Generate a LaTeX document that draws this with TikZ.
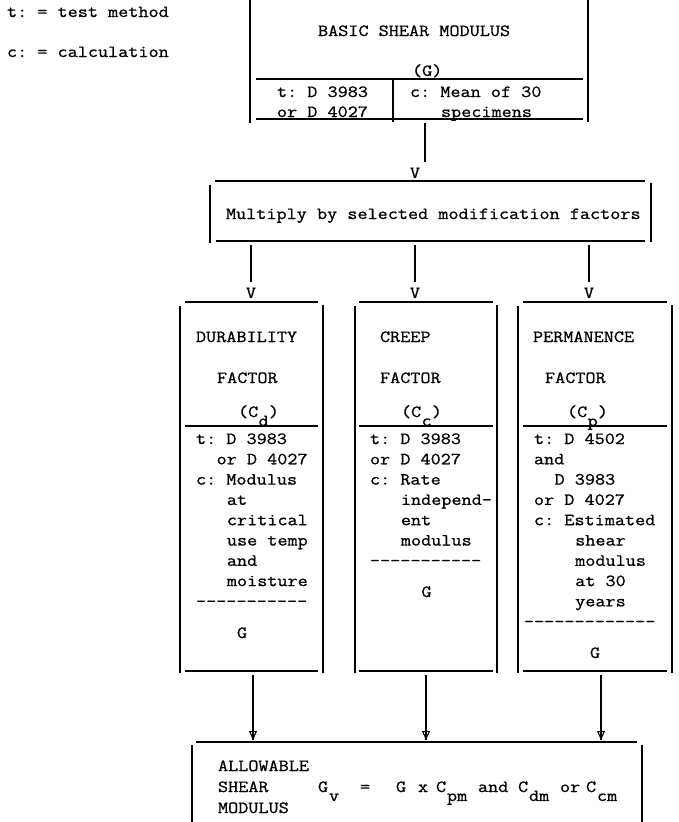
\documentclass[tikz,border=0pt]{standalone}
\usepackage{fontspec}
\usetikzlibrary{arrows.meta}
% typewriter face, widened to a 10.3pt pitch at 17pt
\newfontfamily\tw{Latin Modern Mono}[FakeStretch=1.155, FakeBold=0.9]
\newcommand{\twsize}{\tw\fontsize{17}{20}\selectfont\frenchspacing}

\begin{document}
\begin{tikzpicture}[x=1pt,y=-1pt,
  rule/.style={line width=1.3pt, line cap=butt},
  txt/.style={anchor=base west, inner sep=0pt, outer sep=0pt, font=\twsize},
  vee/.style={anchor=base, inner sep=0pt, outer sep=0pt, font=\twsize},
  downtip/.style={line width=1.1pt, -{Triangle[open, width=8pt, length=9pt, line width=1.1pt]}}
]
\useasboundingbox (0,0) rectangle (678,822);

% legend
\node[txt] (legt) at (7,17) {t: = test method};
\node[txt] (legc) at (7,57) {c: = calculation};

% ---- basic shear modulus box
\draw[rule] (250,0) -- (250,123);
\draw[rule] (588,0) -- (588,122);
\draw[rule] (256,79) -- (583,79);
\draw[rule] (256,119) -- (583,119);
\draw[rule] (393,79) -- (393,122);
\node[txt] (bsm) at (318,36) {BASIC SHEAR MODULUS};
\node[txt] (bsmG) at (412,76) {(G)};
\node[txt] (bsmt1) at (277,97) {t: D 3983};
\node[txt] (bsmt2) at (277,117) {or D 4027};
\node[txt] (bsmc1) at (410,97) {c: Mean of 30};
\node[txt] (bsmc2) at (441,117) {specimens};

% connector to the multiply box
\coordinate (c1a) at (425,123);
\coordinate (c1b) at (425,162);
\draw[rule] (c1a) -- (c1b);
\node[vee] (v1) at (415,178) {V};

% ---- multiply box
\draw[rule] (215,181) -- (645,181);
\draw[rule] (216,241) -- (645,241);
\draw[rule] (210,185) -- (210,243);
\draw[rule] (651,183) -- (651,242);
\node[txt] (mult) at (226,219) {Multiply by selected modification factors};

% connectors to the three factor boxes
\foreach \i/\x in {d/251, c/415, p/589}{
  \coordinate (c2\i a) at (\x,245);
  \coordinate (c2\i b) at (\x,282);
  \draw[rule] (c2\i a) -- (c2\i b);
  \node[vee] (v2\i) at (\x,298) {V};
}

% ---- factor box frames: left, right, inner-left, inner-right
\foreach \l/\r/\il/\ir in {180/323/185/318, 355/497/359/493, 518/672/523/667}{
  \draw[rule] (\il,302) -- (\ir,302);
  \draw[rule] (\il,426) -- (\ir,426);
  \draw[rule] (\il,671) -- (\ir,671);
  \draw[rule] (\l,306) -- (\l,673);
  \draw[rule] (\r,305) -- (\r,673);
}

% ---- durability factor
\node[txt] (d1) at (196,342) {DURABILITY};
\node[txt] (d2) at (217,383) {FACTOR};
\node[txt] (d3) at (238,417) {(C};
\node[txt] (d3s) at (258.6,426) {d};
\node[txt] (d3e) at (268.9,417) {)};
\node[txt] (dt1) at (196,444) {t: D 3983};
\node[txt] (dt2) at (216.6,464.3) {or D 4027};
\node[txt] (dc1) at (196,484.6) {c: Modulus};
\node[txt] (dc2) at (226.9,504.9) {at};
\node[txt] (dc3) at (226.9,525.2) {critical};
\node[txt] (dc4) at (226.9,545.5) {use temp};
\node[txt] (dc5) at (226.9,565.8) {and};
\node[txt] (dc6) at (226.9,586.1) {moisture};
\node[txt] (ddash) at (196,606.4) {-----------};
\node[txt] (dG) at (237,638) {G};

% ---- creep factor
\node[txt] (k1) at (380,342) {CREEP};
\node[txt] (k2) at (380,383) {FACTOR};
\node[txt] (k3) at (401,417) {(C};
\node[txt] (k3s) at (421.6,426) {c};
\node[txt] (k3e) at (431.9,417) {)};
\node[txt] (kt1) at (370,444) {t: D 3983};
\node[txt] (kt2) at (370,464.3) {or D 4027};
\node[txt] (kc1) at (370,484.6) {c: Rate};
\node[txt] (kc2) at (400.9,504.9) {independ-};
\node[txt] (kc3) at (400.9,525.2) {ent};
\node[txt] (kc4) at (400.9,545.5) {modulus};
\node[txt] (kdash) at (370,565.8) {-----------};
\node[txt] (kG) at (421.5,597) {G};

% ---- permanence factor
\node[txt] (p1) at (533,342) {PERMANENCE};
\node[txt] (p2) at (545,383) {FACTOR};
\node[txt] (p3) at (567,417) {(C};
\node[txt] (p3s) at (587.6,426) {p};
\node[txt] (p3e) at (597.9,417) {)};
\node[txt] (pt1) at (534,444) {t: D 4502};
\node[txt] (pt2) at (534,464.3) {and};
\node[txt] (pt3) at (554.6,484.6) {D 3983};
\node[txt] (pt4) at (534,504.9) {or D 4027};
\node[txt] (pc1) at (534,525.2) {c: Estimated};
\node[txt] (pc2) at (575.2,545.5) {shear};
\node[txt] (pc3) at (575.2,565.8) {modulus};
\node[txt] (pc4) at (575.2,586.1) {at 30};
\node[txt] (pc5) at (575.2,606.4) {years};
\node[txt] (pdash) at (524,626.7) {-------------};
\node[txt] (pG) at (590,658) {G};

% connectors to the allowable shear modulus box
\foreach \i/\x in {d/253, c/426, p/601}{
  \coordinate (c3\i a) at (\x,675);
  \coordinate (c3\i b) at (\x,740);
  \draw[rule] (c3\i a) -- (c3\i b);
  \draw[downtip] (c3\i a) -- (c3\i b);
}

% ---- allowable shear modulus box
\draw[rule] (196,742) -- (637,742);
\draw[rule] (192,745) -- (192,822);
\draw[rule] (642,745) -- (642,822);
\node[txt] (a1) at (218,771) {ALLOWABLE};
\node[txt] (a2) at (218,792) {SHEAR};
\node[txt] (a3) at (218,813) {MODULUS};
\node[txt] (fG) at (318,792) {G};
\node[txt] (fv) at (329,801) {v};
\node[txt] (feq) at (360,792) {=};
\node[txt] (fG2) at (396,792) {G};
\node[txt] (fx) at (418,792) {x};
\node[txt] (fC1) at (436,792) {C};
\node[txt] (fpm) at (447,801) {pm};
\node[txt] (fand) at (478,792) {and};
\node[txt] (fC2) at (518,792) {C};
\node[txt] (fdm) at (529,801) {dm};
\node[txt] (for) at (560,792) {or};
\node[txt] (fC3) at (586,792) {C};
\node[txt] (fcm) at (597,801) {cm};
\end{tikzpicture}
\end{document}
